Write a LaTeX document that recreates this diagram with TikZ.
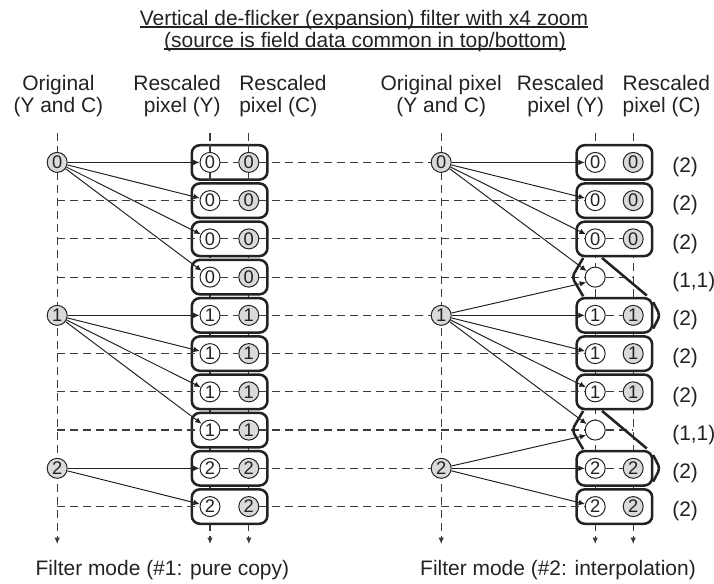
\documentclass[tikz,border=0pt]{standalone}
\usepackage{fontspec}
\setmainfont{Liberation Sans}
\usetikzlibrary{arrows.meta}
\definecolor{flickerfg}{HTML}{222222}
\definecolor{flickergrid}{HTML}{3C3C3C}
\definecolor{flickergray}{HTML}{DADADA}

\begin{document}
\begin{tikzpicture}[x=1cm,y=1cm,>={Latex[length=4.5pt,width=4pt]},font=\fontsize{14.9pt}{15.6pt}\selectfont]
  \tikzstyle{title}=[anchor=base, inner sep=0pt, text=flickerfg]
  \tikzstyle{head}=[inner sep=0pt, text=flickerfg]
  \tikzstyle{rate}=[anchor=west, inner sep=0pt, text=flickerfg]
  \tikzstyle{linebox}=[draw=flickerfg, fill=white, line width=1.8pt, rounded corners=0.2cm, minimum width=1.89cm, minimum height=0.86cm]
  \tikzstyle{pix}=[circle, draw=flickerfg, line width=0.7pt, fill=white, inner sep=0pt, minimum size=0.5cm, text=flickerfg, font=\fontsize{13pt}{13pt}\selectfont]
  \tikzstyle{cpix}=[pix, fill=flickergray]
  \tikzstyle{guide}=[draw=flickergrid, line width=0.85pt, dash pattern=on 0.2cm off 0.125cm]
  \tikzstyle{arrow}=[->, draw=flickerfg, line width=0.7pt]
  \tikzstyle{pairline}=[draw=flickerfg, line width=1.8pt, rounded corners=0.1cm]

  \path[use as bounding box] (0,0) rectangle (17.85,-14.575);

  % title
  \node[title] (title1) at (9.10,-0.625) {Vertical de-flicker (expansion) filter with x4 zoom};
  \node[title] (title2) at (9.125,-1.175) {(source is field data common in top/bottom)};
  \draw[draw=flickerfg, line width=0.8pt] ([yshift=-0.05cm]title1.base west) -- ([yshift=-0.05cm]title1.base east);
  \draw[draw=flickerfg, line width=0.8pt] ([yshift=-0.05cm]title2.base west) -- ([yshift=-0.05cm]title2.base east);

  % column heads
  \node[head, align=center] (lohead) at (1.46,-2.41) {Original\\(Y and C)};
  \node[head, align=right, anchor=east] (lyhead) at (5.525,-2.41) {Rescaled\\pixel (Y)};
  \node[head, align=left, anchor=west] (lchead) at (5.975,-2.41) {Rescaled\\pixel (C)};
  \node[head, align=center] (rohead) at (11.03,-2.41) {Original pixel\\(Y and C)};
  \node[head, align=right, anchor=east] (ryhead) at (15.11,-2.41) {Rescaled\\pixel (Y)};
  \node[head, align=left, anchor=west] (rchead) at (15.56,-2.41) {Rescaled\\pixel (C)};

  % vertical guides
  \foreach \x/\i in {1.43/lo,5.25/ly,6.22/lc,11.03/ro,14.88/ry,15.83/rc} {
    \coordinate (\i-top) at (\x,-3.325);
    \coordinate (\i-end) at (\x,-13.6);
    \draw[guide,->] (\i-top) -- (\i-end);
  }

  % line groups
  \foreach \k in {0,...,9}
    \node[linebox] (lbox\k) at (5.74,-4.06-0.956*\k) {};
  \foreach \k in {0,1,2,4,5,6,8,9}
    \node[linebox] (rbox\k) at (15.36,-4.06-0.956*\k) {};

  % pixels
  \foreach \k/\v in {0/0,1/0,2/0,3/0,4/1,5/1,6/1,7/1,8/2,9/2} {
    \node[pix] (ly\k) at (5.25,-4.06-0.956*\k) {\v};
    \node[cpix] (lc\k) at (6.22,-4.06-0.956*\k) {\v};
    \coordinate (lv\k) at (1.43,-4.06-0.956*\k);
  }
  \foreach \k/\v in {0/0,1/0,2/0,4/1,5/1,6/1,8/2,9/2} {
    \node[pix] (ry\k) at (14.88,-4.06-0.956*\k) {\v};
    \node[cpix] (rc\k) at (15.83,-4.06-0.956*\k) {\v};
  }
  \foreach \k in {3,7} {
    \node[pix] (ry\k) at (14.88,-4.06-0.956*\k) {};
    \coordinate (rc\k) at (15.83,-4.06-0.956*\k);
  }
  \foreach \j/\k in {0/0,1/4,2/8} {
    \node[cpix] (lo\j) at (1.43,-4.06-0.956*\k) {\j};
    \node[cpix] (ro\j) at (11.03,-4.06-0.956*\k) {\j};
  }

  % horizontal guides
  \foreach \k in {1,2,3,5,6,7,9} {
    \draw[guide] (lv\k) -- (ly\k);
    \draw[guide] (lc\k) -- (ry\k);
  }
  \foreach \k/\j in {0/0,4/1,8/2}
    \draw[guide] (lc\k) -- (ro\j);
  \foreach \k in {0,...,8}
    \draw[guide] (ly\k) -- (lc\k);
  \foreach \k in {2,3,4,6,7,8}
    \draw[guide] (ry\k) -- (rc\k);
  \foreach \i in {ly,lc} {
    \draw[guide] (\i0) -- (\i0 |- lbox0.north);
    \draw[guide] (\i0) -- (\i0 |- lbox0.south);
  }

  % pure copy
  \foreach \k in {0,...,3} \draw[arrow] (lo0) -- (ly\k);
  \foreach \k in {4,...,7} \draw[arrow] (lo1) -- (ly\k);
  \foreach \k in {8,9} \draw[arrow] (lo2) -- (ly\k);

  % interpolation
  \foreach \k in {0,1,2} \draw[arrow] (ro0) -- (ry\k);
  \draw[arrow] (ro0) -- (ry3.145);
  \draw[arrow] (ro1) -- (ry3.210);
  \foreach \k in {4,5,6} \draw[arrow] (ro1) -- (ry\k);
  \draw[arrow] (ro1) -- (ry7.145);
  \draw[arrow] (ro2) -- (ry7.210);
  \foreach \k in {8,9} \draw[arrow] (ro2) -- (ry\k);

  \foreach \y/\n in {-6.928/-7.884,-10.752/-11.708} {
    \draw[pairline] (14.58,\y+0.48) -- (14.30,\y) -- (14.58,\y-0.48);
    \draw[pairline] (15.05,\y+0.48) -- (16.17,\y-0.46);
    \draw[pairline] (16.33,\n+0.33) -- (16.50,\n) -- (16.33,\n-0.33);
  }

  \foreach \k/\t in {0/{(2)},1/{(2)},2/{(2)},3/{(1,1)},4/{(2)},5/{(2)},6/{(2)},7/{(1,1)},8/{(2)},9/{(2)}}
    \node[rate] (rate\k) at (16.8,-4.18-0.956*\k) {\t};

  \node[title] (mode1) at (4.06,-14.375) {Filter mode (\#1: pure copy)};
  \node[title] (mode2) at (13.95,-14.375) {Filter mode (\#2: interpolation)};
\end{tikzpicture}
\end{document}
